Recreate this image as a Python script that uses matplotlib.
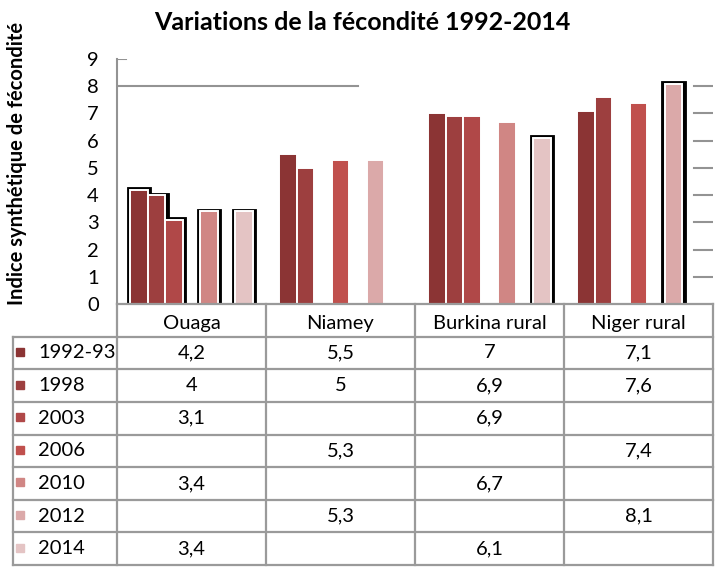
import numpy as np
import matplotlib
matplotlib.use("Agg")
import matplotlib.pyplot as plt
from matplotlib.patches import Rectangle

plt.rcParams['font.family'] = ['Lato', 'DejaVu Sans']

# ---- data ----
categories = ["Ouaga", "Niamey", "Burkina rural", "Niger rural"]
years = ["1992-93", "1998", "2003", "2006", "2010", "2012", "2014"]
nan = np.nan
v1992 = [4.2, 5.5, 7.0, 7.1]
v1998 = [4.0, 5.0, 6.9, 7.6]
v2003 = [3.1, nan, 6.9, nan]
v2006 = [nan, 5.3, nan, 7.4]
v2010 = [3.4, nan, 6.7, nan]
v2012 = [nan, 5.3, nan, 8.1]
v2014 = [3.4, nan, 6.1, nan]
series = [v1992, v1998, v2003, v2006, v2010, v2012, v2014]
colors = ["#8B3434", "#9D3F3F", "#B04848", "#C0504D", "#D08684", "#DBA9A9", "#E4C4C4"]
# bars drawn with a black outline effect (category index, series index)
outlined = {(0, 0), (0, 1), (0, 2), (0, 4), (0, 6), (2, 6), (3, 5)}

W, H = 720, 568
fig = plt.figure(figsize=(W / 100, H / 100), dpi=100)

L, R, T, B = 117, 713, 59, 304
ax = fig.add_axes([L / W, 1 - B / H, (R - L) / W, (B - T) / H])
ax.set_xlim(0, len(categories))
ax.set_ylim(0, 9)

nser = len(series)
bw = 1.0 / (nser + 1.5)
start = 0.75 * bw
pxu = (R - L) / len(categories)   # px per x unit
pyu = (B - T) / 9                 # px per y unit

for j, vals in enumerate(series):
    for i, v in enumerate(vals):
        if np.isnan(v):
            continue
        x0 = i + start + j * bw
        if (i, j) in outlined:
            ex = 3.5 / pxu
            ey = 2.5 / pyu
            ax.add_patch(Rectangle((x0 - ex, 0), bw + 2 * ex, v + ey,
                                   facecolor="black", edgecolor="black",
                                   linewidth=0.6, joinstyle="round", zorder=2))
        ax.bar(x0, v, width=bw, align="edge", color=colors[j],
               edgecolor="white", linewidth=1.4, zorder=3)

gc = "#939393"
for lvl in range(1, 9):
    ax.axhline(lvl, xmin=(694 - L) / (R - L), xmax=1.0, color=gc, lw=1.5, zorder=1)
ax.axhline(8, xmin=0, xmax=(358 - L) / (R - L), color=gc, lw=1.5, zorder=1)
ax.axhline(9, xmin=0, xmax=0.015, color=gc, lw=1.5, zorder=1)

for s in ["top", "right", "bottom"]:
    ax.spines[s].set_visible(False)
ax.spines["left"].set_color(gc)
ax.spines["left"].set_linewidth(1.5)
ax.set_yticks(range(0, 10))
ax.set_yticklabels([str(k) for k in range(0, 10)], fontsize=14.5)
ax.tick_params(axis="y", length=0, pad=13)
ax.set_xticks([])
ax.set_ylabel("Indice synthétique de fécondité", fontsize=14.5,
              fontweight="bold", labelpad=0)
ax.yaxis.set_label_coords(-(L - 27) / (R - L), (B - 163) / (B - T))

fig.text(362 / W, 1 - 22 / H, "Variations de la fécondité 1992-2014",
         ha="center", va="center", fontsize=18, fontweight="bold")

# ---- data table ----
TL, TB = 13, 565
tax = fig.add_axes([TL / W, 1 - TB / H, (R - TL) / W, (TB - B) / H])
lead = (L - TL) / pxu
tax.set_xlim(-lead, len(categories))
nrows = nser + 1
tax.set_ylim(nrows, 0)
tax.axis("off")

lc = "#9a9a9a"
lw = 1.6
tax.plot([0, len(categories)], [0, 0], color=lc, lw=lw, clip_on=False)
for r in range(1, nrows + 1):
    tax.plot([-lead, len(categories)], [r, r], color=lc, lw=lw, clip_on=False)
for c in range(0, len(categories) + 1):
    tax.plot([c, c], [0, nrows], color=lc, lw=lw, clip_on=False)
tax.plot([-lead, -lead], [1, nrows], color=lc, lw=lw, clip_on=False)

for i, cat in enumerate(categories):
    tax.text(i + 0.5, 0.6, cat, ha="center", va="center", fontsize=14.5)


def fmt(v):
    if float(v).is_integer():
        return str(int(v))
    return f"{v:.1f}".replace(".", ",")


for j, (yr, vals) in enumerate(zip(years, series)):
    r = j + 1.5
    tax.plot([-lead + 7 / pxu], [r - 0.03], marker="s", markersize=6,
             color=colors[j], clip_on=False)
    tax.text(-lead + 25 / pxu, r, yr, ha="left", va="center", fontsize=14.5)
    for i, v in enumerate(vals):
        if np.isnan(v):
            continue
        tax.text(i + 0.5, r, fmt(v), ha="center", va="center", fontsize=14.5)

fig.savefig("out.png", dpi=100)
